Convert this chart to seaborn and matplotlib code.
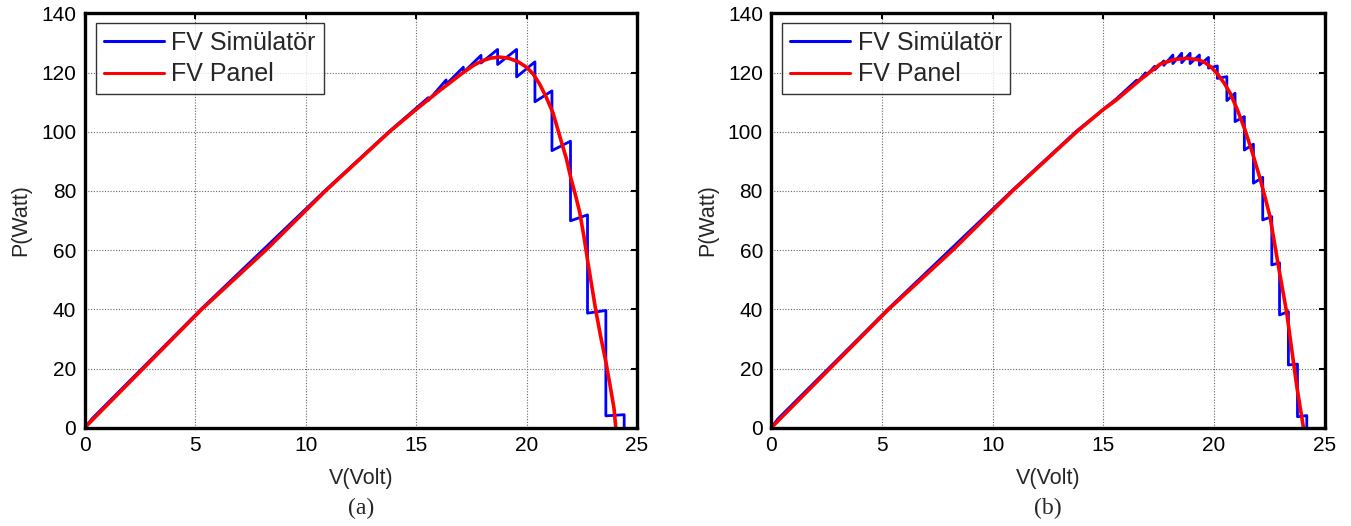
import matplotlib
matplotlib.use("Agg")
import matplotlib.pyplot as plt
import pandas as pd
import seaborn as sns

# ---------------- data ----------------
x_ticks = [0, 5, 10, 15, 20, 25]
y_ticks = [0, 20, 40, 60, 80, 100, 120, 140]
series_names = ["FV Simülatör", "FV Panel"]
captions = ["(a)", "(b)"]

# Panel (a) -- FV Panel (red)
panel_a_v = [0, 2.65, 5.3, 8.2, 10.9, 13.8, 15.0, 16.0, 17.1, 17.6, 18.0, 18.4, 18.8,
             19.2, 19.6, 20.0, 20.3, 20.6, 20.9, 21.2, 21.55, 21.8, 22.0, 22.2, 22.4,
             22.6, 22.76, 22.95, 23.13, 23.35, 23.6, 23.8, 23.96, 24.04]
panel_a_p = [0, 20, 40, 60, 80, 100, 107.5, 113.5, 119.8, 122.4, 124.0, 124.9, 125.2,
             124.8, 123.7, 121.8, 119.5, 116.0, 111.5, 106.3, 97.3, 91.0, 84.5, 79.0, 73.0,
             64.5, 56.7, 48.0, 39.8, 31.0, 21.9, 13.5, 6.5, 0]

# Panel (a) -- FV Simülatör (blue): smooth start, then sawtooth steps
sim_a_low_v = [0, 0.35, 5.3, 10.9, 13.8]
sim_a_low_p = [0, 3.2, 40.3, 80.3, 100.2]
sim_a_step_v = [15.55, 16.36, 17.14, 17.94, 18.69, 19.55, 20.38, 21.15, 21.99, 22.76, 23.59, 24.42]
sim_a_step_top = [111.5, 117.5, 121.8, 125.8, 127.8, 127.8, 123.6, 113.8, 96.8, 71.9, 39.6, 4.4]
sim_a_step_bot = [110.5, 116.0, 120.0, 123.2, 122.7, 118.5, 110.1, 93.6, 69.9, 38.7, 4.0, 0]

# Panel (b) -- FV Panel (red)
panel_b_v = [0, 2.65, 5.3, 8.2, 10.9, 13.8, 15.0, 15.6, 16.66, 17.56, 18.2, 18.77, 19.3,
             19.6, 19.9, 20.13, 20.45, 20.73, 21.05, 21.4, 21.75, 22.08, 22.3, 22.53, 22.9,
             23.29, 23.5, 23.74, 23.9, 24.04]
panel_b_p = [0, 20, 40, 60, 80, 100, 107.5, 110.8, 117.5, 122.8, 124.4, 124.8, 124.3,
             123.3, 121.6, 119.7, 116.5, 113.0, 107.5, 100.6, 92.5, 84.2, 78.0, 71.3, 55.0,
             38.6, 27.0, 13.9, 6.5, 0]

# Panel (b) -- FV Simülatör (blue)
sim_b_low_v = [0, 0.3, 5.3, 10.9, 13.8, 15.6]
sim_b_low_p = [0, 3.0, 40.3, 80.3, 100.3, 111.2]
sim_b_step_v = [16.5, 16.91, 17.32, 17.73, 18.14, 18.54, 18.92, 19.34, 19.75, 20.15,
                20.58, 20.95, 21.37, 21.78, 22.2, 22.61, 22.96, 23.36, 23.77, 24.19]
sim_b_step_top = [117.4, 119.9, 122.1, 123.9, 125.9, 126.5, 126.5, 125.9, 125.1, 122.2,
                  118.6, 113.0, 105.1, 95.8, 84.6, 71.3, 55.7, 39.2, 21.5, 4.1]
sim_b_step_bot = [116.5, 118.8, 120.9, 122.4, 123.0, 123.3, 123.0, 122.5, 121.5, 118.0,
                  110.5, 103.4, 93.8, 82.6, 70.2, 55.0, 38.1, 21.2, 3.7, 0]


def build_frame(low_v, low_p, step_v, step_top, step_bot, pv, pp):
    sv, sp = list(low_v), list(low_p)
    for v, t, b in zip(step_v, step_top, step_bot):
        sv += [v, v]
        sp += [t, b]
    d1 = pd.DataFrame({"V": sv, "P": sp, "series": series_names[0]})
    d2 = pd.DataFrame({"V": pv, "P": pp, "series": series_names[1]})
    return d1, d2


frames = [
    build_frame(sim_a_low_v, sim_a_low_p, sim_a_step_v, sim_a_step_top, sim_a_step_bot, panel_a_v, panel_a_p),
    build_frame(sim_b_low_v, sim_b_low_p, sim_b_step_v, sim_b_step_top, sim_b_step_bot, panel_b_v, panel_b_p),
]

# ---------------- style ----------------
sns.set_style("white")
plt.rcParams["font.family"] = ["Liberation Sans", "DejaVu Sans"]

fig = plt.figure(figsize=(13.51, 5.26), dpi=100)
axes_rects = [
    [84.7 / 1351, 1 - 427.7 / 526, 552.3 / 1351, 414.4 / 526],
    [771.3 / 1351, 1 - 427.7 / 526, 553.4 / 1351, 414.4 / 526],
]

for i, (rect, (dsim, dpan)) in enumerate(zip(axes_rects, frames)):
    ax = fig.add_axes(rect)
    sns.lineplot(data=dsim, x="V", y="P", sort=False, estimator=None, color="#0000FF",
                 linewidth=2.0, ax=ax, label=series_names[0])
    sns.lineplot(data=dpan, x="V", y="P", sort=False, estimator=None, color="#FF0000",
                 linewidth=2.6, ax=ax, label=series_names[1])
    ax.set_xlim(0, 25)
    ax.set_ylim(0, 140)
    ax.set_xticks(x_ticks)
    ax.set_yticks(y_ticks)
    ax.grid(True, color="#666666", linestyle=(0, (1, 1.5)), linewidth=0.8)
    ax.set_axisbelow(True)
    for s in ax.spines.values():
        s.set_visible(True)
        s.set_color("black")
        s.set_linewidth(2.4)
    ax.tick_params(direction="in", length=4, width=1.5, top=True, right=True,
                   labelsize=15, pad=6, colors="black")
    ax.set_xlabel("V(Volt)", fontsize=15.5, labelpad=9)
    ax.set_ylabel("P(Watt)", fontsize=15.5, labelpad=7)
    leg = ax.legend(loc="upper left", bbox_to_anchor=(0.02, 0.977), borderaxespad=0,
                    fontsize=18, frameon=True, fancybox=False, handlelength=2.4,
                    handletextpad=0.3, borderpad=0.32, labelspacing=0.3)
    leg.get_frame().set_edgecolor("black")
    leg.get_frame().set_linewidth(1.0)
    for lh in leg.get_lines():
        lh.set_linewidth(2.2)
    ax.text(0.5, -0.195, captions[i], transform=ax.transAxes, ha="center", va="center",
            fontsize=17, family=["Liberation Serif", "DejaVu Serif"])

fig.savefig("out.png", dpi=100)
